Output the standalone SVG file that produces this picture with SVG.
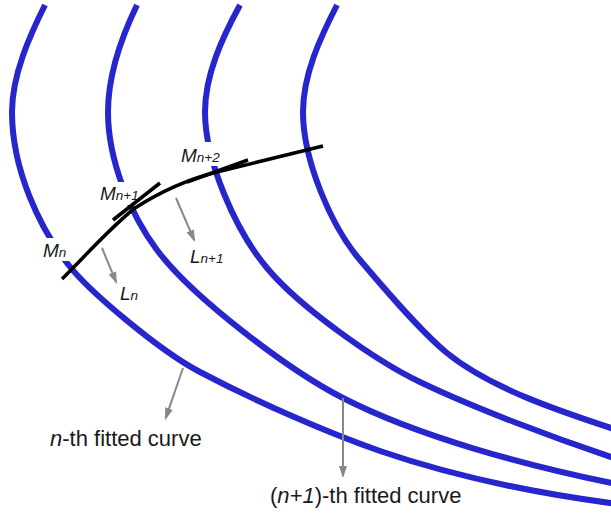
<svg xmlns="http://www.w3.org/2000/svg" width="611" height="514" viewBox="0 0 611 514">
<style>
.curve{fill:none;stroke:#2626cc;stroke-width:6}
.knock{fill:#fff}
.blk{fill:none;stroke:#000;stroke-width:3.5}
.arr{fill:none;stroke:#888;stroke-width:2}
.lbl{font-family:"Liberation Sans",Arial,sans-serif;font-style:italic;font-size:19px;fill:#1a1a1a}
.sub{font-size:13.5px}
.cap{font-family:"Liberation Sans",Arial,sans-serif;font-size:22px;fill:#1a1a1a}
</style>
<defs>
<marker id="ah" markerUnits="userSpaceOnUse" markerWidth="13" markerHeight="9" refX="10" refY="4" orient="auto" overflow="visible">
<path d="M0,0 L12,4 L0,8 Z" fill="#888"/>
</marker>
</defs>
<rect width="611" height="514" fill="#fff"/>
<g id="curves">
<path id="curve1" class="curve" d="M45,5 C30,35 12,75 12,112 C12,170 40,228 67,263 C88,291 160,351 200,372 C253,400 323,431 380,451 C453,476 534,493 614,503.5"/>
<path id="curve2" class="curve" d="M137,5 C122,36 108,75 108,112 C108,160 130,214 157,250 C193,298 290,371 343,398 C419,437 528,466 614,483.5"/>
<path id="curve3" class="curve" d="M240,5 C222,38 205,75 205,112 C205,160 235,230 267,268 C299,306.5 375,360.5 420,382 C474,408 554,438 614,458"/>
<path id="curve4" class="curve" d="M337,5 C320,38 303,75 303,112 C303,160 331,226 360,260 C383,287 420,331 447,353 C490,388 559,411 614,429"/>
<rect class="knock" x="40" y="238" width="32" height="23"/>
<rect class="knock" x="98" y="182" width="44" height="23"/>
<rect class="knock" x="179" y="142" width="47" height="24"/>
</g>
<g id="connectors">
<path id="fitline" class="blk" d="M62,279 C90,251 112,226 135,208 C160,192 185,180 217,172 L323,146"/>
<line id="tangent1" class="blk" x1="113" y1="220" x2="160" y2="183"/>
<line id="tangent2" class="blk" x1="187" y1="182" x2="248" y2="160"/>
<line class="arr" x1="102" y1="248" x2="116.2" y2="282.2" marker-end="url(#ah)"/>
<line class="arr" x1="176" y1="198" x2="194.2" y2="240.2" marker-end="url(#ah)"/>
<line class="arr" x1="183" y1="368" x2="165.7" y2="418.1" marker-end="url(#ah)"/>
<line class="arr" x1="343" y1="398" x2="343" y2="476" marker-end="url(#ah)"/>
</g>
<g id="Mn"><text class="lbl" x="43" y="257">M<tspan class="sub">n</tspan></text></g>
<g id="Mn1"><text class="lbl" x="100" y="200">M<tspan class="sub">n+1</tspan></text></g>
<g id="Mn2"><text class="lbl" x="181" y="162">M<tspan class="sub">n+2</tspan></text></g>
<g id="Ln"><text class="lbl" x="120" y="300">L<tspan class="sub">n</tspan></text></g>
<g id="Ln1"><text class="lbl" x="190" y="263">L<tspan class="sub">n+1</tspan></text></g>
<g id="cap1"><text class="cap" x="50" y="446"><tspan font-style="italic">n</tspan>-th fitted curve</text></g>
<g id="cap2"><text class="cap" x="270" y="503">(<tspan font-style="italic">n+1</tspan>)-th fitted curve</text></g>
</svg>
